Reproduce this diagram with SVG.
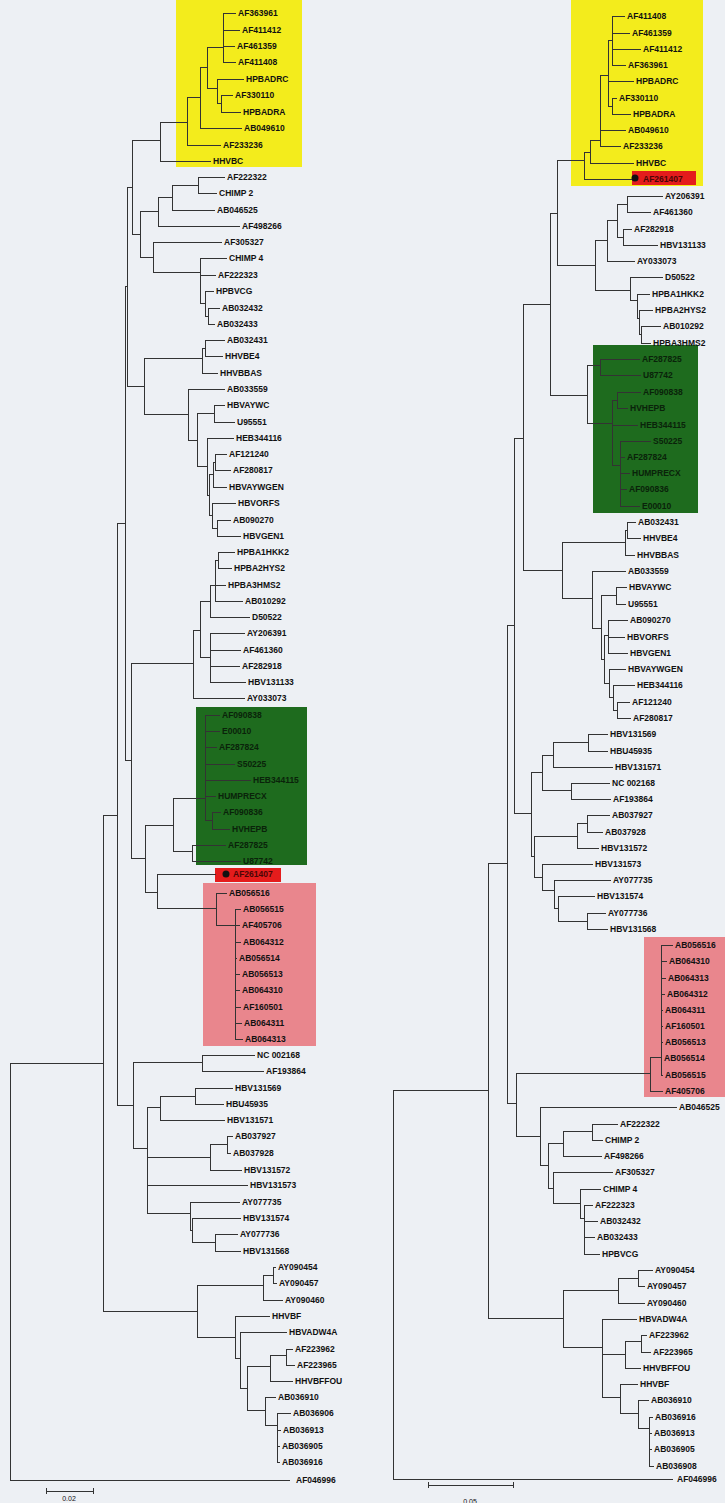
<svg xmlns="http://www.w3.org/2000/svg" width="725" height="1503" viewBox="0 0 725 1503">
<style>
.bg{fill:#edf0f4}
.br{fill:none;stroke:#333;stroke-width:1;shape-rendering:crispEdges}
text{font-family:"Liberation Sans",Arial,sans-serif;font-size:8.5px;font-weight:bold;fill:#111}
.gt text{fill:#0a230a}
.rt text{fill:#4a0606}
.sc{font-size:7px;font-weight:normal}
</style>
<rect class="bg" x="0" y="0" width="725" height="1503"/>
<g id="highlights">
<rect x="176" y="0" width="126" height="167" fill="#f3ec1c"/>
<rect x="196" y="707" width="111" height="158" fill="#1e6b1e"/>
<rect x="215" y="868" width="66" height="14" fill="#e41c1c"/>
<rect x="203" y="883" width="113" height="163" fill="#e9868d"/>
<rect x="571" y="0" width="132" height="186" fill="#f3ec1c"/>
<rect x="632" y="171" width="64" height="14" fill="#e41c1c"/>
<rect x="593" y="345" width="105" height="168" fill="#1e6b1e"/>
<rect x="644" y="937" width="81" height="160" fill="#e9868d"/>
<circle cx="226" cy="874" r="3.5" fill="#111"/>
<circle cx="635" cy="178" r="3.5" fill="#111"/>
</g>
<g id="connectors">
<path id="branches-left" class="br" d="M10,1063V1480M10,1063H103M10,1480H290
M103,815V1311M103,815H117M103,1311H197
M117,523V1105M117,523H125M117,1105H133
M125,286V760M125,286H127M125,760H131
M127,187V386M127,187H132M127,386H144
M132,140V234M132,140H160M132,234H140
M140,211V257M140,211H158M140,257H153
M158,197V226M158,197H172M158,226H240
M172,185V210M172,185H198M172,210H215
M198,177V193M198,177H225M198,193H217
M153,242V272M153,242H222M153,272H200
M200,258V303M200,258H227M200,275H216M200,303H205
M205,291V316M205,291H214M205,316H208
M208,308V324M208,308H220M208,324H215
M160,122V161M160,122H187M160,161H211
M187,97V145M187,97H200M187,145H221
M200,67V128M200,67H207M200,128H242
M207,47V88M207,47H223M207,88H217
M223,13V62M223,13H236M223,30H240M223,46H235M223,62H236
M217,79V103M217,79H244M217,103H221
M221,95V112M221,95H233M221,112H241
M144,358V414M144,358H202M144,414H188
M202,348V373M202,348H205M202,373H218
M205,340V356M205,340H225M205,356H223
M188,389V440M188,389H225M188,440H197
M197,413V466M197,413H214M197,466H207
M214,405V422M214,405H225M214,422H235
M207,438V495M207,438H234M207,495H209
M209,474V515M209,474H213M209,515H212
M213,462V487M213,462H215M213,487H227
M215,454V470M215,454H227M215,470H231
M212,503V528M212,503H236M212,528H217
M217,520V536M217,520H231M217,536H241
M131,663V858M131,663H193M131,858H145
M193,630V698M193,630H200M193,698H245
M200,601V657M200,601H210M200,657H210
M210,585V617M210,585H215M210,617H250
M215,560V601M215,560H218M215,585H226M215,601H243
M218,552V568M218,552H235M218,568H232
M210,633V682M210,633H245M210,650H241M210,666H240M210,682H246
M145,825V892M145,825H173M145,892H157
M173,798V851M173,798H205M173,851H192
M205,715V820M205,715H220M205,731H220M205,747H217M205,764H235M205,780H251M205,796H216M205,820H212
M212,812V829M212,812H221M212,829H230
M192,845V861M192,845H226M192,861H241
M157,874V908M157,874H216M157,908H216
M216,893V925M216,893H227M216,925H235
M235,909V1039M235,909H241M235,925H240M235,942H241M235,958H237M235,974H240M235,990H240M235,1007H241M235,1023H242M235,1039H243
M133,1062V1148M133,1062H202M133,1148H147
M202,1055V1071M202,1055H255M202,1071H264
M147,1107V1213M147,1107H160M147,1157H210M147,1185H248M147,1213H190
M160,1096V1120M160,1096H195M160,1120H225
M195,1088V1104M195,1088H233M195,1104H224
M210,1144V1170M210,1144H227M210,1170H242
M227,1136V1153M227,1136H233M227,1153H231
M190,1202V1230M190,1202H240M190,1230H192
M192,1218V1242M192,1218H241M192,1242H215
M215,1234V1251M215,1234H238M215,1251H241
M197,1285V1337M197,1285H263M197,1337H235
M263,1275V1300M263,1275H273M263,1300H283
M273,1267V1283M273,1267H276M273,1283H277
M235,1316V1358M235,1316H270M235,1358H240
M240,1332V1388M240,1332H287M240,1388H247
M247,1366V1410M247,1366H270M247,1410H265
M270,1355V1381M270,1355H286M270,1381H293
M286,1349V1365M286,1349H293M286,1365H295
M265,1397V1425M265,1397H276M265,1425H277
M277,1413V1462M277,1413H291M277,1430H281M277,1446H280M277,1462H280"/>
<path id="branches-right" class="br" d="M393,1090V1479M393,1090H488M393,1479H673
M488,863V1318M488,863H507M488,1318H563
M507,625V1103M507,625H514M507,1103H516
M514,438V813M514,438H523M514,813H531
M523,304V570M523,304H550M523,570H562
M550,213V395M550,213H557M550,395H587
M557,160V265M557,160H584M557,265H595
M584,152V179M584,152H590M584,179H632
M590,140V163M590,140H600M590,163H634
M600,75V146M600,75H608M600,130H626M600,146H621
M608,40V106M608,40H612M608,81H634M608,106H612
M612,16V65M612,16H625M612,33H630M612,49H641M612,65H626
M612,98V114M612,98H617M612,114H631
M595,240V290M595,240H607M595,290H630
M607,220V261M607,220H617M607,261H635
M617,204V237M617,204H627M617,237H623
M627,196V212M627,196H663M627,212H651
M623,229V245M623,229H632M623,245H658
M630,277V300M630,277H663M630,300H637
M637,294V318M637,294H650M637,318H639
M639,310V334M639,310H653M639,334H641
M641,326V343M641,326H661M641,343H651
M587,365V423M587,365H600M587,423H612
M600,359V375M600,359H640M600,375H641
M612,400V465M612,400H617M612,425H638M612,465H620
M617,392V408M617,392H641M617,408H628
M620,441V506M620,441H651M620,457H625M620,473H630M620,489H627M620,506H640
M562,542V598M562,542H625M562,598H592
M625,530V555M625,530H627M625,555H635
M627,522V538M627,522H636M627,538H641
M592,571V628M592,571H626M592,628H601
M601,595V659M601,595H616M601,659H604
M616,587V604M616,587H627M616,604H626
M604,635V683M604,635H608M604,683H609
M608,620V653M608,620H628M608,637H625M608,653H628
M609,669V697M609,669H626M609,697H613
M613,685V710M613,685H635M613,710H617
M617,702V718M617,702H630M617,718H631
M531,772V856M531,772H542M531,856H534
M542,755V790M542,755H553M542,790H571
M553,742V767M553,742H588M553,767H613
M588,734V751M588,734H608M588,751H608
M571,783V799M571,783H610M571,799H611
M534,836V877M534,836H577M534,877H542
M577,823V848M577,823H587M577,848H599
M587,815V832M587,815H610M587,832H603
M542,864V890M542,864H593M542,890H554
M554,880V908M554,880H611M554,908H558
M558,896V921M558,896H595M558,921H587
M587,913V929M587,913H606M587,929H608
M516,1073V1136M516,1073H650M516,1136H540
M650,1057V1091M650,1057H661M650,1091H663
M661,945V1075M661,945H673M661,961H667M661,978H666M661,994H665M661,1010H663M661,1026H663M661,1042H663M661,1058H662M661,1075H663
M540,1107V1165M540,1107H677M540,1165H548
M548,1143V1188M548,1143H563M548,1188H553
M563,1131V1156M563,1131H592M563,1156H602
M592,1124V1140M592,1124H618M592,1140H603
M553,1172V1203M553,1172H613M553,1203H580
M580,1189V1218M580,1189H601M580,1218H584
M584,1205V1254M584,1205H593M584,1221H598M584,1237H595M584,1254H600
M563,1290V1347M563,1290H618M563,1347H602
M618,1278V1303M618,1278H638M618,1303H645
M638,1270V1286M638,1270H653M638,1286H645
M602,1319V1397M602,1319H637M602,1354H625M602,1397H620
M625,1341V1368M625,1341H641M625,1368H641
M641,1335V1352M641,1335H647M641,1352H651
M620,1384V1413M620,1384H638M620,1413H638
M638,1400V1428M638,1400H649M638,1428H649
M649,1417V1466M649,1417H653M649,1433H652M649,1449H652M649,1466H654"/>
<path id="scale-bars" class="br" d="M46,1491H93M46,1488V1494M93,1488V1494M428,1485H513M428,1482V1488M513,1482V1488"/>
</g>
<g id="left-tree-leaves">
<g id="L-AF363961"><text x="238" y="16">AF363961</text></g>
<g id="L-AF411412"><text x="242" y="33">AF411412</text></g>
<g id="L-AF461359"><text x="237" y="49">AF461359</text></g>
<g id="L-AF411408"><text x="238" y="65">AF411408</text></g>
<g id="L-HPBADRC"><text x="246" y="82">HPBADRC</text></g>
<g id="L-AF330110"><text x="235" y="98">AF330110</text></g>
<g id="L-HPBADRA"><text x="243" y="115">HPBADRA</text></g>
<g id="L-AB049610"><text x="244" y="131">AB049610</text></g>
<g id="L-AF233236"><text x="223" y="148">AF233236</text></g>
<g id="L-HHVBC"><text x="213" y="164">HHVBC</text></g>
<g id="L-AF222322"><text x="227" y="180">AF222322</text></g>
<g id="L-CHIMP2"><text x="219" y="196">CHIMP 2</text></g>
<g id="L-AB046525"><text x="217" y="213">AB046525</text></g>
<g id="L-AF498266"><text x="242" y="229">AF498266</text></g>
<g id="L-AF305327"><text x="224" y="245">AF305327</text></g>
<g id="L-CHIMP4"><text x="229" y="261">CHIMP 4</text></g>
<g id="L-AF222323"><text x="218" y="278">AF222323</text></g>
<g id="L-HPBVCG"><text x="216" y="294">HPBVCG</text></g>
<g id="L-AB032432"><text x="222" y="311">AB032432</text></g>
<g id="L-AB032433"><text x="217" y="327">AB032433</text></g>
<g id="L-AB032431"><text x="227" y="343">AB032431</text></g>
<g id="L-HHVBE4"><text x="225" y="359">HHVBE4</text></g>
<g id="L-HHVBBAS"><text x="220" y="376">HHVBBAS</text></g>
<g id="L-AB033559"><text x="227" y="392">AB033559</text></g>
<g id="L-HBVAYWC"><text x="227" y="408">HBVAYWC</text></g>
<g id="L-U95551"><text x="237" y="425">U95551</text></g>
<g id="L-HEB344116"><text x="236" y="441">HEB344116</text></g>
<g id="L-AF121240"><text x="229" y="457">AF121240</text></g>
<g id="L-AF280817"><text x="233" y="473">AF280817</text></g>
<g id="L-HBVAYWGEN"><text x="229" y="490">HBVAYWGEN</text></g>
<g id="L-HBVORFS"><text x="238" y="506">HBVORFS</text></g>
<g id="L-AB090270"><text x="233" y="523">AB090270</text></g>
<g id="L-HBVGEN1"><text x="243" y="539">HBVGEN1</text></g>
<g id="L-HPBA1HKK2"><text x="237" y="555">HPBA1HKK2</text></g>
<g id="L-HPBA2HYS2"><text x="234" y="571">HPBA2HYS2</text></g>
<g id="L-HPBA3HMS2"><text x="228" y="588">HPBA3HMS2</text></g>
<g id="L-AB010292"><text x="245" y="604">AB010292</text></g>
<g id="L-D50522"><text x="252" y="620">D50522</text></g>
<g id="L-AY206391"><text x="247" y="636">AY206391</text></g>
<g id="L-AF461360"><text x="243" y="653">AF461360</text></g>
<g id="L-AF282918"><text x="242" y="669">AF282918</text></g>
<g id="L-HBV131133"><text x="248" y="685">HBV131133</text></g>
<g id="L-AY033073"><text x="247" y="701">AY033073</text></g>
<g class="gt">
<g id="L-AF090838"><text x="222" y="718">AF090838</text></g>
<g id="L-E00010"><text x="222" y="734">E00010</text></g>
<g id="L-AF287824"><text x="219" y="750">AF287824</text></g>
<g id="L-S50225"><text x="237" y="767">S50225</text></g>
<g id="L-HEB344115"><text x="253" y="783">HEB344115</text></g>
<g id="L-HUMPRECX"><text x="218" y="799">HUMPRECX</text></g>
<g id="L-AF090836"><text x="223" y="815">AF090836</text></g>
<g id="L-HVHEPB"><text x="232" y="832">HVHEPB</text></g>
<g id="L-AF287825"><text x="228" y="848">AF287825</text></g>
<g id="L-U87742"><text x="243" y="864">U87742</text></g>
</g>
<g class="rt"><g id="L-AF261407"><text x="233" y="877">AF261407</text></g></g>
<g id="L-AB056516"><text x="229" y="896">AB056516</text></g>
<g id="L-AB056515"><text x="243" y="912">AB056515</text></g>
<g id="L-AF405706"><text x="242" y="928">AF405706</text></g>
<g id="L-AB064312"><text x="243" y="945">AB064312</text></g>
<g id="L-AB056514"><text x="239" y="961">AB056514</text></g>
<g id="L-AB056513"><text x="242" y="977">AB056513</text></g>
<g id="L-AB064310"><text x="242" y="993">AB064310</text></g>
<g id="L-AF160501"><text x="243" y="1010">AF160501</text></g>
<g id="L-AB064311"><text x="244" y="1026">AB064311</text></g>
<g id="L-AB064313"><text x="245" y="1042">AB064313</text></g>
<g id="L-NC002168"><text x="257" y="1058">NC 002168</text></g>
<g id="L-AF193864"><text x="266" y="1074">AF193864</text></g>
<g id="L-HBV131569"><text x="235" y="1091">HBV131569</text></g>
<g id="L-HBU45935"><text x="226" y="1107">HBU45935</text></g>
<g id="L-HBV131571"><text x="227" y="1123">HBV131571</text></g>
<g id="L-AB037927"><text x="235" y="1139">AB037927</text></g>
<g id="L-AB037928"><text x="233" y="1156">AB037928</text></g>
<g id="L-HBV131572"><text x="244" y="1173">HBV131572</text></g>
<g id="L-HBV131573"><text x="250" y="1188">HBV131573</text></g>
<g id="L-AY077735"><text x="242" y="1205">AY077735</text></g>
<g id="L-HBV131574"><text x="243" y="1221">HBV131574</text></g>
<g id="L-AY077736"><text x="240" y="1237">AY077736</text></g>
<g id="L-HBV131568"><text x="243" y="1254">HBV131568</text></g>
<g id="L-AY090454"><text x="278" y="1270">AY090454</text></g>
<g id="L-AY090457"><text x="279" y="1286">AY090457</text></g>
<g id="L-AY090460"><text x="285" y="1303">AY090460</text></g>
<g id="L-HHVBF"><text x="272" y="1319">HHVBF</text></g>
<g id="L-HBVADW4A"><text x="289" y="1335">HBVADW4A</text></g>
<g id="L-AF223962"><text x="295" y="1352">AF223962</text></g>
<g id="L-AF223965"><text x="297" y="1368">AF223965</text></g>
<g id="L-HHVBFFOU"><text x="295" y="1384">HHVBFFOU</text></g>
<g id="L-AB036910"><text x="278" y="1400">AB036910</text></g>
<g id="L-AB036906"><text x="293" y="1416">AB036906</text></g>
<g id="L-AB036913"><text x="283" y="1433">AB036913</text></g>
<g id="L-AB036905"><text x="282" y="1449">AB036905</text></g>
<g id="L-AB036916"><text x="282" y="1465">AB036916</text></g>
<g id="L-AF046996"><text x="296" y="1483">AF046996</text></g>
<g id="L-scale"><text class="sc" x="69" y="1501" text-anchor="middle">0.02</text></g>
</g>
<g id="right-tree-leaves">
<g id="R-AF411408"><text x="627" y="19">AF411408</text></g>
<g id="R-AF461359"><text x="632" y="36">AF461359</text></g>
<g id="R-AF411412"><text x="643" y="52">AF411412</text></g>
<g id="R-AF363961"><text x="628" y="68">AF363961</text></g>
<g id="R-HPBADRC"><text x="636" y="84">HPBADRC</text></g>
<g id="R-AF330110"><text x="619" y="101">AF330110</text></g>
<g id="R-HPBADRA"><text x="633" y="117">HPBADRA</text></g>
<g id="R-AB049610"><text x="628" y="133">AB049610</text></g>
<g id="R-AF233236"><text x="623" y="149">AF233236</text></g>
<g id="R-HHVBC"><text x="636" y="166">HHVBC</text></g>
<g class="rt"><g id="R-AF261407"><text x="643" y="182">AF261407</text></g></g>
<g id="R-AY206391"><text x="665" y="199">AY206391</text></g>
<g id="R-AF461360"><text x="653" y="215">AF461360</text></g>
<g id="R-AF282918"><text x="634" y="232">AF282918</text></g>
<g id="R-HBV131133"><text x="660" y="248">HBV131133</text></g>
<g id="R-AY033073"><text x="637" y="264">AY033073</text></g>
<g id="R-D50522"><text x="665" y="280">D50522</text></g>
<g id="R-HPBA1HKK2"><text x="652" y="297">HPBA1HKK2</text></g>
<g id="R-HPBA2HYS2"><text x="655" y="313">HPBA2HYS2</text></g>
<g id="R-AB010292"><text x="663" y="329">AB010292</text></g>
<g id="R-HPBA3HMS2"><text x="653" y="346">HPBA3HMS2</text></g>
<g class="gt">
<g id="R-AF287825"><text x="642" y="362">AF287825</text></g>
<g id="R-U87742"><text x="643" y="378">U87742</text></g>
<g id="R-AF090838"><text x="643" y="395">AF090838</text></g>
<g id="R-HVHEPB"><text x="630" y="411">HVHEPB</text></g>
<g id="R-HEB344115"><text x="640" y="428">HEB344115</text></g>
<g id="R-S50225"><text x="653" y="444">S50225</text></g>
<g id="R-AF287824"><text x="627" y="460">AF287824</text></g>
<g id="R-HUMPRECX"><text x="632" y="476">HUMPRECX</text></g>
<g id="R-AF090836"><text x="629" y="492">AF090836</text></g>
<g id="R-E00010"><text x="642" y="509">E00010</text></g>
</g>
<g id="R-AB032431"><text x="638" y="525">AB032431</text></g>
<g id="R-HHVBE4"><text x="643" y="541">HHVBE4</text></g>
<g id="R-HHVBBAS"><text x="637" y="558">HHVBBAS</text></g>
<g id="R-AB033559"><text x="628" y="574">AB033559</text></g>
<g id="R-HBVAYWC"><text x="629" y="590">HBVAYWC</text></g>
<g id="R-U95551"><text x="628" y="607">U95551</text></g>
<g id="R-AB090270"><text x="630" y="623">AB090270</text></g>
<g id="R-HBVORFS"><text x="627" y="640">HBVORFS</text></g>
<g id="R-HBVGEN1"><text x="630" y="656">HBVGEN1</text></g>
<g id="R-HBVAYWGEN"><text x="628" y="672">HBVAYWGEN</text></g>
<g id="R-HEB344116"><text x="637" y="688">HEB344116</text></g>
<g id="R-AF121240"><text x="632" y="705">AF121240</text></g>
<g id="R-AF280817"><text x="633" y="721">AF280817</text></g>
<g id="R-HBV131569"><text x="610" y="737">HBV131569</text></g>
<g id="R-HBU45935"><text x="610" y="754">HBU45935</text></g>
<g id="R-HBV131571"><text x="615" y="770">HBV131571</text></g>
<g id="R-NC002168"><text x="612" y="786">NC 002168</text></g>
<g id="R-AF193864"><text x="613" y="802">AF193864</text></g>
<g id="R-AB037927"><text x="612" y="818">AB037927</text></g>
<g id="R-AB037928"><text x="605" y="835">AB037928</text></g>
<g id="R-HBV131572"><text x="601" y="851">HBV131572</text></g>
<g id="R-HBV131573"><text x="595" y="867">HBV131573</text></g>
<g id="R-AY077735"><text x="613" y="883">AY077735</text></g>
<g id="R-HBV131574"><text x="597" y="899">HBV131574</text></g>
<g id="R-AY077736"><text x="608" y="916">AY077736</text></g>
<g id="R-HBV131568"><text x="610" y="932">HBV131568</text></g>
<g id="R-AB056516"><text x="675" y="948">AB056516</text></g>
<g id="R-AB064310"><text x="669" y="964">AB064310</text></g>
<g id="R-AB064313"><text x="668" y="981">AB064313</text></g>
<g id="R-AB064312"><text x="667" y="997">AB064312</text></g>
<g id="R-AB064311"><text x="665" y="1013">AB064311</text></g>
<g id="R-AF160501"><text x="665" y="1029">AF160501</text></g>
<g id="R-AB056513"><text x="665" y="1045">AB056513</text></g>
<g id="R-AB056514"><text x="664" y="1061">AB056514</text></g>
<g id="R-AB056515"><text x="665" y="1078">AB056515</text></g>
<g id="R-AF405706"><text x="665" y="1094">AF405706</text></g>
<g id="R-AB046525"><text x="679" y="1110">AB046525</text></g>
<g id="R-AF222322"><text x="620" y="1127">AF222322</text></g>
<g id="R-CHIMP2"><text x="605" y="1143">CHIMP 2</text></g>
<g id="R-AF498266"><text x="604" y="1159">AF498266</text></g>
<g id="R-AF305327"><text x="615" y="1175">AF305327</text></g>
<g id="R-CHIMP4"><text x="603" y="1192">CHIMP 4</text></g>
<g id="R-AF222323"><text x="595" y="1208">AF222323</text></g>
<g id="R-AB032432"><text x="600" y="1224">AB032432</text></g>
<g id="R-AB032433"><text x="597" y="1240">AB032433</text></g>
<g id="R-HPBVCG"><text x="602" y="1257">HPBVCG</text></g>
<g id="R-AY090454"><text x="655" y="1273">AY090454</text></g>
<g id="R-AY090457"><text x="647" y="1289">AY090457</text></g>
<g id="R-AY090460"><text x="647" y="1306">AY090460</text></g>
<g id="R-HBVADW4A"><text x="639" y="1322">HBVADW4A</text></g>
<g id="R-AF223962"><text x="649" y="1338">AF223962</text></g>
<g id="R-AF223965"><text x="653" y="1355">AF223965</text></g>
<g id="R-HHVBFFOU"><text x="643" y="1371">HHVBFFOU</text></g>
<g id="R-HHVBF"><text x="640" y="1387">HHVBF</text></g>
<g id="R-AB036910"><text x="651" y="1403">AB036910</text></g>
<g id="R-AB036916"><text x="655" y="1420">AB036916</text></g>
<g id="R-AB036913"><text x="654" y="1436">AB036913</text></g>
<g id="R-AB036905"><text x="654" y="1452">AB036905</text></g>
<g id="R-AB036908"><text x="656" y="1469">AB036908</text></g>
<g id="R-AF046996"><text x="677" y="1482">AF046996</text></g>
<g id="R-scale"><text class="sc" x="470" y="1504" text-anchor="middle">0.05</text></g>
</g>
</svg>
